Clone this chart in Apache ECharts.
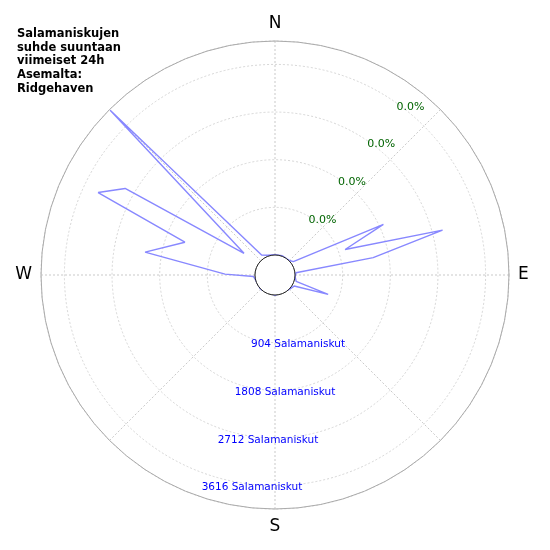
<!DOCTYPE html>
<html><head><meta charset="utf-8">
<script src="https://cdn.jsdelivr.net/npm/echarts@6/dist/echarts.min.js"></script>
<style>html,body{margin:0;padding:0;background:#fff}#c{width:550px;height:550px}</style>
</head><body><div id="c"></div>
<script>
const titleLines = ['Salamaniskujen', 'suhde suuntaan', 'viimeiset 24h', 'Asemalta:', 'Ridgehaven'];
const directions = ['N', 'E', 'S', 'W'];
const angles = [0, 20, 45, 54, 65, 70, 75, 80, 84, 95, 107, 110, 120, 135, 180, 225, 260, 266, 271, 280, 290, 295, 300, 305, 315, 326, 340, 360];
const counts = [5, 10, 10, 50, 1890, 1036, 2911, 1512, 20, 5, 40, 694, 40, 5, 5, 5, 10, 30, 569, 2123, 1440, 3323, 2904, 338, 4043, 76, 20, 5];
const ringValues = [904, 1808, 2712, 3616];
const ringLabels = ['904 Salamaniskut', '1808 Salamaniskut', '2712 Salamaniskut', '3616 Salamaniskut'];
const pctLabels = ['0.0%', '0.0%', '0.0%', '0.0%'];
const radiusMax = 4060;

const chart = echarts.init(document.getElementById('c'));
chart.setOption({
  animation: false,
  polar: { center: ['50%', '50%'], radius: [20, 234] },
  angleAxis: {
    type: 'value', min: 0, max: 360, interval: 45, startAngle: 90, clockwise: true,
    axisLine: { lineStyle: { color: '#aaa', width: 1 } },
    axisTick: { show: false },
    axisLabel: {
      margin: 9, fontSize: 17, color: '#000', fontFamily: 'DejaVu Sans',
      formatter: v => (v % 90 === 0 && v < 360) ? directions[v / 90] : ''
    },
    splitLine: { show: true, lineStyle: { color: '#bbb', type: [2, 2], width: 0.8 } }
  },
  radiusAxis: {
    type: 'value', min: 0, max: radiusMax, interval: 904,
    axisLine: { show: false }, axisTick: { show: false }, axisLabel: { show: false },
    splitLine: { show: true, lineStyle: { color: '#ccc', type: [2, 2], width: 0.8 } }
  },
  series: [{
    type: 'line', coordinateSystem: 'polar', symbol: 'none',
    lineStyle: { color: '#8888ff', width: 1.4 },
    data: angles.map((a, i) => [counts[i], a])
  }]
});

const c = chart.convertToPixel({ polarIndex: 0 }, [0, 0]);
const cen = (function(){ const p = chart.convertToPixel({polarIndex:0},[radiusMax,0]); const q = chart.convertToPixel({polarIndex:0},[radiusMax,180]); return [(p[0]+q[0])/2,(p[1]+q[1])/2]; })();
const r0 = Math.hypot(c[0]-cen[0], c[1]-cen[1]);
const g = [];
g.push({ type: 'circle', shape: { cx: cen[0], cy: cen[1], r: r0 }, style: { fill: '#fff', stroke: '#222', lineWidth: 1 }, z: 100 });
const blueOffsets = [23, 10, -7, -23];
ringValues.forEach((v, i) => {
  const p = chart.convertToPixel({ polarIndex: 0 }, [v, 180]);
  g.push({ type: 'text', x: p[0] + blueOffsets[i], y: p[1] + 2, z: 100,
    style: { text: ringLabels[i], fill: '#0000ff', fontSize: 10.5, fontFamily: 'DejaVu Sans', align: 'center', verticalAlign: 'middle' } });
  const q = chart.convertToPixel({ polarIndex: 0 }, [v + 120, 38]);
  g.push({ type: 'text', x: q[0] + 2, y: q[1] + 3, z: 100,
    style: { text: pctLabels[i], fill: '#006400', fontSize: 11, fontFamily: 'DejaVu Sans', align: 'center', verticalAlign: 'middle' } });
});
g.push({ type: 'text', left: 17, top: 27, z: 100,
  style: { text: titleLines.join('\n'), fill: '#000', fontSize: 11.5, fontWeight: 'bold', fontFamily: 'DejaVu Sans', lineHeight: 13.7 } });
chart.setOption({ graphic: g });
</script></body></html>
